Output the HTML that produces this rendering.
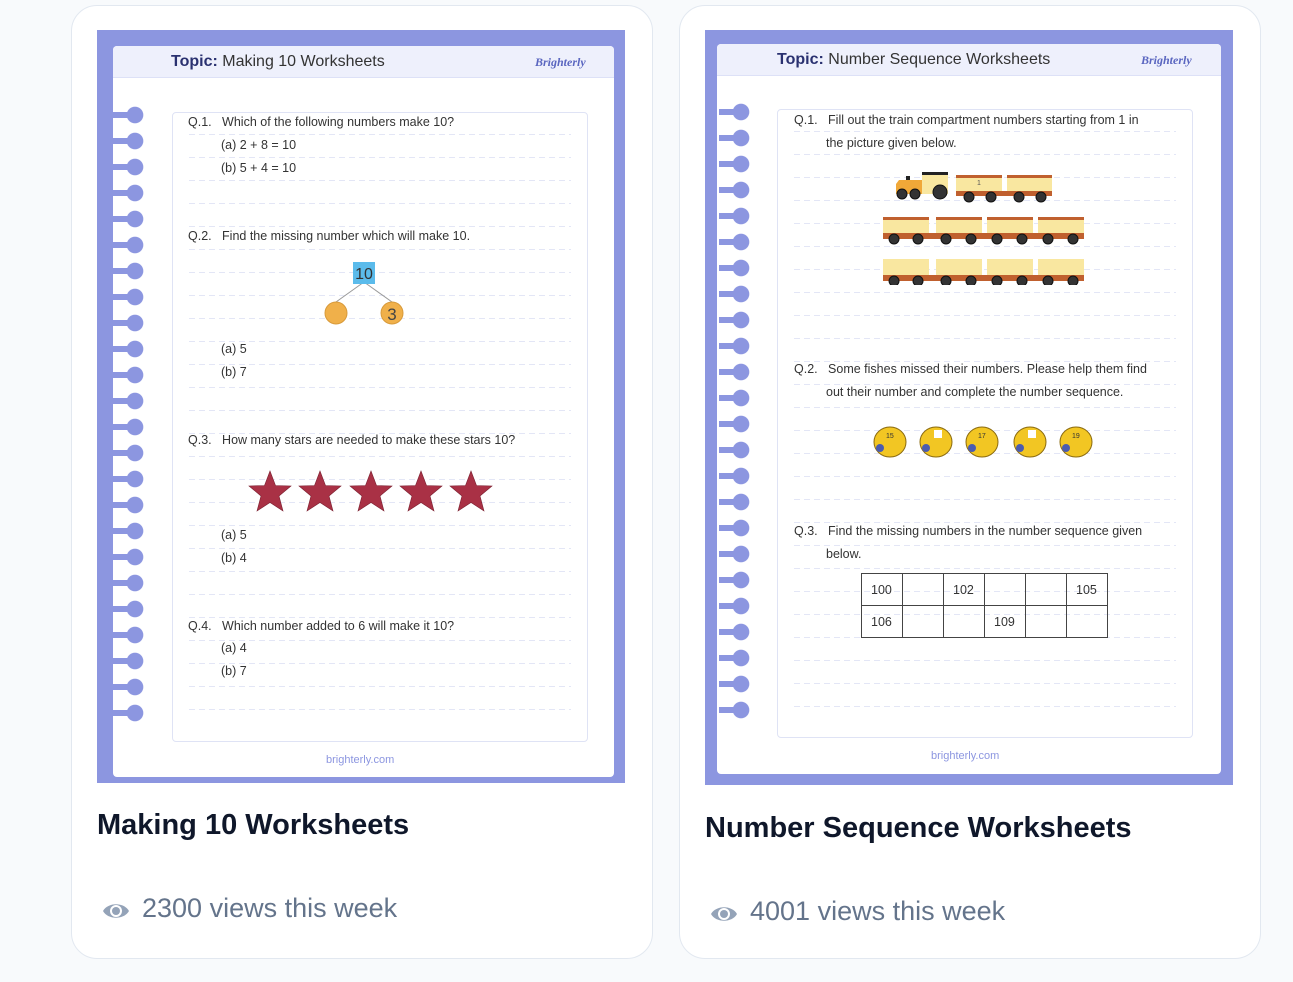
<!DOCTYPE html>
<html><head><meta charset="utf-8"><style>
*{margin:0;padding:0;box-sizing:border-box}
body{width:1293px;height:982px;background:#f8fafc;position:relative;overflow:hidden;font-family:"Liberation Sans",sans-serif}
.a{position:absolute}
.card{position:absolute;background:#fff;border:1px solid #e2e8f0;border-radius:26px}
.ws{position:absolute;background:#8c96e0}
.paper{position:absolute;background:#fff;border-radius:4px;overflow:hidden}
.hdr{position:absolute;left:0;right:0;top:0;height:32px;background:#eef0fc;border-bottom:1px solid #dde1f7}
.hdr .t{position:absolute;top:7px;font-size:16px;color:#333}
.hdr b{color:#2a3170}
.logo{position:absolute;top:9px;font-size:12px;font-style:italic;font-weight:bold;color:#5a66c0;font-family:"Liberation Serif",serif}
.box{position:absolute;border:1px solid #dfe3f5;border-radius:4px;background:#fff}
.lines{position:absolute;background:repeating-linear-gradient(to bottom,transparent 0,transparent 22px,#e3e6f6 22px,#e3e6f6 23px);-webkit-mask-image:repeating-linear-gradient(to right,#000 0 6px,transparent 6px 10px);mask-image:repeating-linear-gradient(to right,#000 0 6px,transparent 6px 10px)}
.spiral{position:absolute;background:radial-gradient(circle at 22px 13px,#8c96e0 8px,transparent 8.6px),linear-gradient(to bottom,transparent 10px,#8c96e0 10px,#8c96e0 16px,transparent 16px);background-size:32px 26px,22px 26px;background-repeat:repeat-y}
.q{position:absolute;font-size:12.5px;color:#333;white-space:nowrap}
.foot{position:absolute;font-size:11px;color:#8c96e0}
.title{position:absolute;font-size:29px;font-weight:bold;color:#0f172a}
.views{position:absolute;font-size:27px;color:#64748b}
.eye{position:absolute;width:28px;height:20px}
td{border:1px solid #444;width:41px;height:32px;font-size:12.5px;color:#333;padding-left:9px}
table{border-collapse:collapse}
</style></head><body>

<div class="card" style="left:71px;top:5px;width:582px;height:954px"></div>
<div class="card" style="left:679px;top:5px;width:582px;height:954px"></div>

<!-- Worksheet 1 -->
<div class="ws" style="left:97px;top:30px;width:528px;height:753px"></div>
<div class="paper" style="left:113px;top:46px;width:501px;height:731px">
  <div class="hdr"><div class="t" style="left:58px"><b>Topic:</b> Making 10 Worksheets</div><div class="logo" style="left:422px">Brighterly</div></div>
  <div class="box" style="left:59px;top:66px;width:416px;height:630px"></div>
  <div class="lines" style="left:76px;top:66px;width:382px;height:620px"></div>
  <div class="foot" style="left:213px;top:708px">brighterly.com</div>
</div>
<div class="spiral" style="left:113px;top:102px;width:32px;height:624px"></div>
<div class="q" style="left:188px;top:115px">Q.1.&nbsp;&nbsp;&nbsp;Which of the following numbers make 10?</div>
<div class="q" style="left:221px;top:138px">(a) 2 + 8 = 10</div>
<div class="q" style="left:221px;top:161px">(b) 5 + 4 = 10</div>
<div class="q" style="left:188px;top:229px">Q.2.&nbsp;&nbsp;&nbsp;Find the missing number which will make 10.</div>
<svg class="a" style="left:320px;top:260px" width="90" height="70">
<line x1="44" y1="22" x2="16" y2="42" stroke="#999"/><line x1="44" y1="22" x2="72" y2="42" stroke="#999"/>
<rect x="33" y="2" width="22" height="22" fill="#5bbbeb"/><text x="44" y="19" font-size="16" text-anchor="middle" fill="#333" font-family="Liberation Sans">10</text>
<circle cx="16" cy="53" r="11" fill="#f0b04a" stroke="#d89a3a"/><circle cx="72" cy="53" r="11" fill="#f0b04a" stroke="#d89a3a"/>
<text x="72" y="60" font-size="17" text-anchor="middle" fill="#444" font-family="Liberation Sans">3</text></svg>
<div class="q" style="left:221px;top:342px">(a) 5</div>
<div class="q" style="left:221px;top:365px">(b) 7</div>
<div class="q" style="left:188px;top:433px">Q.3.&nbsp;&nbsp;&nbsp;How many stars are needed to make these stars 10?</div>
<svg class="a" style="left:246px;top:470px" width="250" height="42">
<defs><polygon id="s" points="24,1 29.5,15.5 45,16 33,26 37,41 24,32.5 11,41 15,26 3,16 18.5,15.5" fill="#a93145" stroke="#7a2030" stroke-width=".6"/></defs>
<use href="#s" x="0"/><use href="#s" x="50"/><use href="#s" x="101"/><use href="#s" x="151"/><use href="#s" x="201"/></svg>
<div class="q" style="left:221px;top:528px">(a) 5</div>
<div class="q" style="left:221px;top:551px">(b) 4</div>
<div class="q" style="left:188px;top:619px">Q.4.&nbsp;&nbsp;&nbsp;Which number added to 6 will make it 10?</div>
<div class="q" style="left:221px;top:641px">(a) 4</div>
<div class="q" style="left:221px;top:664px">(b) 7</div>

<div class="title" style="left:97px;top:809px">Making 10 Worksheets</div>
<svg class="eye" style="left:102px;top:901px" viewBox="0 0 28 20"><path d="M1 10 C6 1 22 1 27 10 C22 19 6 19 1 10Z" fill="#94a3b8"/><circle cx="14" cy="10" r="6" fill="#fff"/><circle cx="14" cy="10" r="4" fill="#94a3b8"/></svg>
<div class="views" style="left:142px;top:893px">2300 views this week</div>

<!-- Worksheet 2 -->
<div class="ws" style="left:705px;top:30px;width:528px;height:755px"></div>
<div class="paper" style="left:717px;top:44px;width:504px;height:730px">
  <div class="hdr"><div class="t" style="left:60px"><b>Topic:</b> Number Sequence Worksheets</div><div class="logo" style="left:424px">Brighterly</div></div>
  <div class="box" style="left:60px;top:65px;width:416px;height:629px"></div>
  <div class="lines" style="left:77px;top:65px;width:382px;height:620px"></div>
  <div class="foot" style="left:214px;top:706px">brighterly.com</div>
</div>
<div class="spiral" style="left:719px;top:99px;width:32px;height:624px"></div>
<div class="q" style="left:794px;top:113px">Q.1.&nbsp;&nbsp;&nbsp;Fill out the train compartment numbers starting from 1 in</div>
<div class="q" style="left:826px;top:136px">the picture given below.</div>
<svg class="a" style="left:880px;top:170px" width="210" height="115">
<g fill="#f9e7a0"><rect x="42" y="4" width="26" height="20"/><rect x="76" y="5" width="46" height="19"/><rect x="127" y="5" width="45" height="19"/>
<rect x="3" y="47" width="46" height="19"/><rect x="56" y="47" width="46" height="19"/><rect x="107" y="47" width="46" height="19"/><rect x="158" y="47" width="46" height="19"/>
<rect x="3" y="89" width="46" height="19"/><rect x="56" y="89" width="46" height="19"/><rect x="107" y="89" width="46" height="19"/><rect x="158" y="89" width="46" height="19"/></g>
<path d="M19 10h23v14h-26v-10z" fill="#f0a838"/><rect x="42" y="2" width="26" height="3" fill="#222"/><rect x="26" y="6" width="4" height="4" fill="#222"/>
<g fill="#c0602e"><rect x="76" y="5" width="46" height="3"/><rect x="127" y="5" width="45" height="3"/><rect x="3" y="47" width="46" height="3"/><rect x="56" y="47" width="46" height="3"/><rect x="107" y="47" width="46" height="3"/><rect x="158" y="47" width="46" height="3"/>
<rect x="76" y="21" width="96" height="5"/><rect x="3" y="63" width="201" height="6"/><rect x="3" y="105" width="201" height="6"/></g>
<text x="97" y="15" font-size="7" fill="#555">1</text>
<g fill="#333" stroke="#111"><circle cx="22" cy="24" r="5"/><circle cx="35" cy="24" r="5"/><circle cx="60" cy="22" r="7"/><circle cx="89" cy="27" r="5"/><circle cx="111" cy="27" r="5"/><circle cx="139" cy="27" r="5"/><circle cx="161" cy="27" r="5"/>
<circle cx="14" cy="69" r="5"/><circle cx="38" cy="69" r="5"/><circle cx="66" cy="69" r="5"/><circle cx="91" cy="69" r="5"/><circle cx="117" cy="69" r="5"/><circle cx="142" cy="69" r="5"/><circle cx="168" cy="69" r="5"/><circle cx="193" cy="69" r="5"/>
<circle cx="14" cy="111" r="5"/><circle cx="38" cy="111" r="5"/><circle cx="66" cy="111" r="5"/><circle cx="91" cy="111" r="5"/><circle cx="117" cy="111" r="5"/><circle cx="142" cy="111" r="5"/><circle cx="168" cy="111" r="5"/><circle cx="193" cy="111" r="5"/></g></svg>
<div class="q" style="left:794px;top:362px">Q.2.&nbsp;&nbsp;&nbsp;Some fishes missed their numbers. Please help them find</div>
<div class="q" style="left:826px;top:385px">out their number and complete the number sequence.</div>
<svg class="a" style="left:868px;top:424px" width="232" height="38">
<defs><g id="f"><ellipse cx="20" cy="18" rx="16" ry="15" fill="#f2c623" stroke="#8a6a10"/><circle cx="10" cy="24" r="4" fill="#4a5bb0"/></g></defs>
<use href="#f" x="2"/><use href="#f" x="48"/><use href="#f" x="94"/><use href="#f" x="142"/><use href="#f" x="188"/>
<text x="18" y="14" font-size="7" fill="#333">15</text><rect x="66" y="6" width="8" height="8" fill="#fff"/><text x="110" y="14" font-size="7" fill="#333">17</text><rect x="160" y="6" width="8" height="8" fill="#fff"/><text x="204" y="14" font-size="7" fill="#333">19</text></svg>
<div class="q" style="left:794px;top:524px">Q.3.&nbsp;&nbsp;&nbsp;Find the missing numbers in the number sequence given</div>
<div class="q" style="left:826px;top:547px">below.</div>
<table class="a" style="left:861px;top:573px"><tr><td>100</td><td></td><td>102</td><td></td><td></td><td>105</td></tr><tr><td>106</td><td></td><td></td><td>109</td><td></td><td></td></tr></table>

<div class="title" style="left:705px;top:812px">Number Sequence Worksheets</div>
<svg class="eye" style="left:710px;top:904px" viewBox="0 0 28 20"><path d="M1 10 C6 1 22 1 27 10 C22 19 6 19 1 10Z" fill="#94a3b8"/><circle cx="14" cy="10" r="6" fill="#fff"/><circle cx="14" cy="10" r="4" fill="#94a3b8"/></svg>
<div class="views" style="left:750px;top:896px">4001 views this week</div>
</body></html>
